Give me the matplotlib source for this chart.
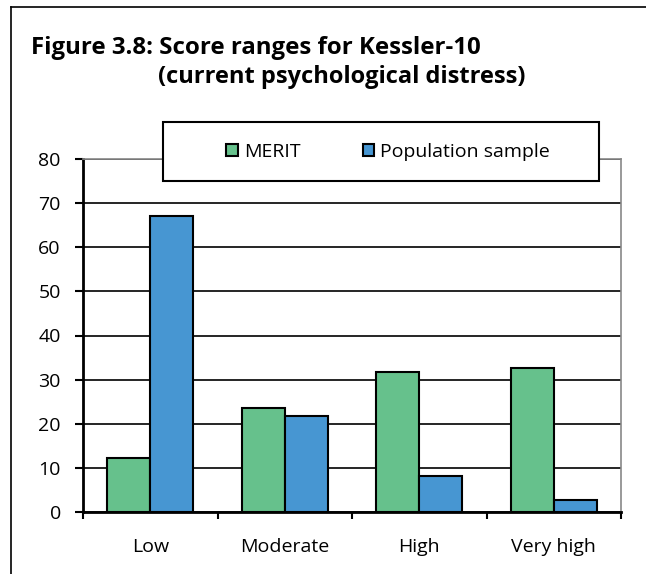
import numpy as np
import matplotlib
matplotlib.use('Agg')
import matplotlib.pyplot as plt
from matplotlib.lines import Line2D
from matplotlib.patches import Rectangle

plt.rcParams['font.family'] = ['Open Sans', 'DejaVu Sans']

categories = ['Low', 'Moderate', 'High', 'Very high']
merit = [12.2, 23.5, 31.7, 32.6]
population = [67.0, 21.7, 8.2, 2.7]
series_names = ['MERIT', 'Population sample']
colors = ['#66c18c', '#4796d2']

W, H = 646, 574
fig = plt.figure(figsize=(W/100, H/100), dpi=100)

# frame on top and left only (the original is cropped)
fig.add_artist(Line2D([11/W, 1], [1-7/H, 1-7/H], color='black', lw=1.2))
fig.add_artist(Line2D([11/W, 11/W], [0, 1-7/H], color='black', lw=1.2))

fig.text(31/W, 1-54/H, 'Figure 3.8: Score ranges for Kessler-10',
         fontsize=17.3, fontweight='bold', ha='left', va='baseline')
fig.text(158/W, 1-83/H, '(current psychological distress)',
         fontsize=17, fontweight='bold', ha='left', va='baseline')

ax = fig.add_axes([83/W, 1-512/H, (621-83)/W, (512-159)/H])

x = np.arange(len(categories))
w = 0.32
ax.bar(x - w/2, merit, w, color=colors[0], edgecolor='black', lw=1.5,
       label=series_names[0], zorder=3)
ax.bar(x + w/2, population, w, color=colors[1], edgecolor='black', lw=1.5,
       label=series_names[1], zorder=3)

ax.set_xlim(-0.5, 3.5)
ax.set_ylim(0, 80)
ax.set_yticks(range(0, 81, 10))
ax.yaxis.grid(True, color='black', lw=1.2, zorder=0)
ax.set_axisbelow(True)

ax.set_xticks(x)
ax.set_xticklabels(categories, fontsize=14)
ax.set_xticks(np.arange(-0.5, 4, 1), minor=True)
ax.tick_params(axis='x', which='major', length=0, pad=19)
ax.tick_params(axis='x', which='minor', length=5, width=1.5, direction='out')
ax.tick_params(axis='y', length=6, width=1.5, labelsize=14, pad=10)

for s in ['left', 'bottom']:
    ax.spines[s].set_linewidth(2)
for s in ['top', 'right']:
    ax.spines[s].set_color('#888888')
    ax.spines[s].set_linewidth(1.2)

# legend box sits over the top of the plot area
fig.add_artist(Rectangle((163/W, 1-181/H), (599-163)/W, (181-122)/H,
                         facecolor='white', edgecolor='black', lw=1.5,
                         transform=fig.transFigure, zorder=4))
handles, labels = ax.get_legend_handles_labels()
fig.legend(handles, labels, loc='center', bbox_to_anchor=(388/W, 1-152/H),
           ncol=2, frameon=False, fontsize=14,
           handlelength=0.6, handleheight=0.6, handletextpad=0.3,
           columnspacing=3.2)

fig.savefig('out.png', dpi=100)
